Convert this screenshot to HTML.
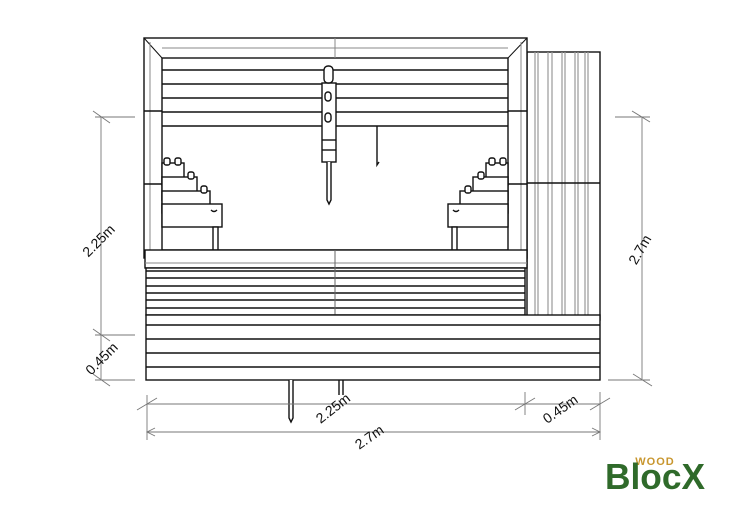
<!DOCTYPE html>
<html><head><meta charset="utf-8"><style>body{margin:0;background:#fff}svg{display:block}</style></head><body>
<svg width="738" height="521" viewBox="0 0 738 521" xmlns="http://www.w3.org/2000/svg" font-family="Liberation Sans, sans-serif">
<g fill="none" stroke="#111" stroke-width="1.4">
<rect x="527" y="52" width="73" height="268" fill="#fff"/>
<g stroke="#999" stroke-width="1.2">
<line x1="535" y1="52" x2="535" y2="318"/><line x1="538" y1="52" x2="538" y2="318"/>
<line x1="548" y1="52" x2="548" y2="318"/><line x1="552" y1="52" x2="552" y2="318"/>
<line x1="562" y1="52" x2="562" y2="318"/><line x1="565" y1="52" x2="565" y2="318"/>
<line x1="575" y1="52" x2="575" y2="318"/><line x1="578" y1="52" x2="578" y2="318"/>
<line x1="585" y1="52" x2="585" y2="318"/><line x1="588" y1="52" x2="588" y2="318"/>
</g>
<line x1="527" y1="183" x2="600" y2="183"/>
<rect x="144" y="38" width="383" height="220" fill="#fff"/>
<rect x="162" y="58" width="346" height="192"/>
<line x1="144" y1="38" x2="162" y2="58" stroke-width="1"/><line x1="527" y1="38" x2="508" y2="58" stroke-width="1"/>
<line x1="144" y1="258" x2="162" y2="250" stroke-width="1"/><line x1="527" y1="258" x2="508" y2="250" stroke-width="1"/>
<line x1="162" y1="48" x2="508" y2="48" stroke="#888" stroke-width="1"/>
<line x1="150" y1="42" x2="150" y2="255" stroke="#888" stroke-width="1"/>
<line x1="521" y1="42" x2="521" y2="255" stroke="#888" stroke-width="1"/>
<line x1="335" y1="38" x2="335" y2="58" stroke="#888" stroke-width="1"/>
<line x1="144" y1="111" x2="162" y2="111"/><line x1="144" y1="184" x2="162" y2="184"/>
<line x1="508" y1="111" x2="527" y2="111"/><line x1="508" y1="184" x2="527" y2="184"/>
<line x1="162" y1="70" x2="508" y2="70"/><line x1="162" y1="84" x2="508" y2="84"/>
<line x1="162" y1="98" x2="508" y2="98"/><line x1="162" y1="112" x2="508" y2="112"/>
<line x1="162" y1="126" x2="508" y2="126"/>
<rect x="322" y="83" width="14" height="79" fill="#fff"/>
<rect x="324" y="66" width="9" height="17" rx="4" fill="#fff"/>
<rect x="325" y="92" width="6" height="9" rx="3"/><rect x="325" y="113" width="6" height="9" rx="3"/>
<line x1="322" y1="140" x2="336" y2="140"/><line x1="322" y1="150" x2="336" y2="150"/>
<path d="M327 162 V200 L329 204 L331 200 V162" fill="#fff"/>
<path d="M377 126 V165 l2 -3"/>
<g fill="#fff">
<rect x="162" y="163" width="22" height="22"/>
<rect x="162" y="177" width="35" height="23"/>
<rect x="162" y="191" width="48" height="22"/>
<rect x="162" y="204" width="60" height="23"/>
<rect x="213" y="227" width="5" height="23"/>
<rect x="164" y="158" width="6" height="7" rx="2"/><rect x="175" y="158" width="6" height="7" rx="2"/>
<rect x="188" y="172" width="6" height="7" rx="2"/><rect x="201" y="186" width="6" height="7" rx="2"/>
<rect x="486" y="163" width="22" height="22"/>
<rect x="473" y="177" width="35" height="23"/>
<rect x="460" y="191" width="48" height="22"/>
<rect x="448" y="204" width="60" height="23"/>
<rect x="452" y="227" width="5" height="23"/>
<rect x="489" y="158" width="6" height="7" rx="2"/><rect x="500" y="158" width="6" height="7" rx="2"/>
<rect x="478" y="172" width="6" height="7" rx="2"/><rect x="465" y="186" width="6" height="7" rx="2"/>
</g>
<path d="M211 210 q3 3 6 0"/><path d="M453 210 q3 3 6 0"/>
<rect x="145" y="250" width="382" height="18" fill="#fff"/>
<line x1="145" y1="263" x2="527" y2="263" stroke="#888" stroke-width="1"/>
<rect x="146" y="268" width="379" height="47" fill="#fff"/>
<line x1="146" y1="271" x2="525" y2="271"/><line x1="146" y1="278" x2="525" y2="278"/>
<line x1="146" y1="286" x2="525" y2="286"/><line x1="146" y1="293" x2="525" y2="293"/>
<line x1="146" y1="300" x2="525" y2="300"/><line x1="146" y1="308" x2="525" y2="308"/>
<line x1="335" y1="250" x2="335" y2="315" stroke="#666" stroke-width="1"/>
<rect x="146" y="315" width="454" height="65" fill="#fff"/>
<line x1="146" y1="325" x2="600" y2="325"/><line x1="146" y1="339" x2="600" y2="339"/>
<line x1="146" y1="353" x2="600" y2="353"/><line x1="146" y1="367" x2="600" y2="367"/>
<path d="M289 380 V418 L291 422 L293 418 V380" fill="#fff"/>
<path d="M339 380 V395 M343 380 V395"/>
</g>
<g stroke="#777" stroke-width="0.9" fill="none">
<line x1="101" y1="117" x2="101" y2="380"/>
<line x1="95" y1="117" x2="135" y2="117"/><line x1="95" y1="335" x2="135" y2="335"/><line x1="95" y1="380" x2="135" y2="380"/>
<line x1="93" y1="111" x2="110" y2="123"/><line x1="93" y1="329" x2="110" y2="341"/><line x1="93" y1="374" x2="110" y2="386"/>
<line x1="642" y1="117" x2="642" y2="380"/>
<line x1="615" y1="117" x2="650" y2="117"/><line x1="608" y1="380" x2="650" y2="380"/>
<line x1="633" y1="374" x2="652" y2="386"/><line x1="650" y1="122" x2="632" y2="111"/>
<line x1="147" y1="395" x2="147" y2="440"/><line x1="525" y1="392" x2="525" y2="415"/><line x1="600" y1="392" x2="600" y2="440"/>
<line x1="147" y1="404" x2="525" y2="404"/><line x1="525" y1="404" x2="600" y2="404"/>
<line x1="147" y1="432" x2="600" y2="432"/>
<line x1="137" y1="410" x2="157" y2="398"/><line x1="515" y1="410" x2="535" y2="398"/><line x1="590" y1="410" x2="610" y2="398"/>
<path d="M155 428 L147 432 L155 436 M592 428 L600 432 L592 436"/>
</g>
<g font-size="14" fill="#111">
<text transform="translate(102,244) rotate(-45)" text-anchor="middle">2.25m</text>
<text transform="translate(105,362) rotate(-45)" text-anchor="middle">0.45m</text>
<text transform="translate(644,252) rotate(-60)" text-anchor="middle">2.7m</text>
<text transform="translate(336,412) rotate(-38)" text-anchor="middle">2.25m</text>
<text transform="translate(563,413) rotate(-35)" text-anchor="middle">0.45m</text>
<text transform="translate(372,441) rotate(-35)" text-anchor="middle">2.7m</text>
</g>
<text x="655" y="465" font-size="11" font-weight="bold" fill="#c8962e" text-anchor="middle" letter-spacing="1">WOOD</text>
<text x="605" y="489" font-size="36" font-weight="bold" fill="#2f6a2a" textLength="100" lengthAdjust="spacingAndGlyphs">BlocX</text>
</svg>
</body></html>
